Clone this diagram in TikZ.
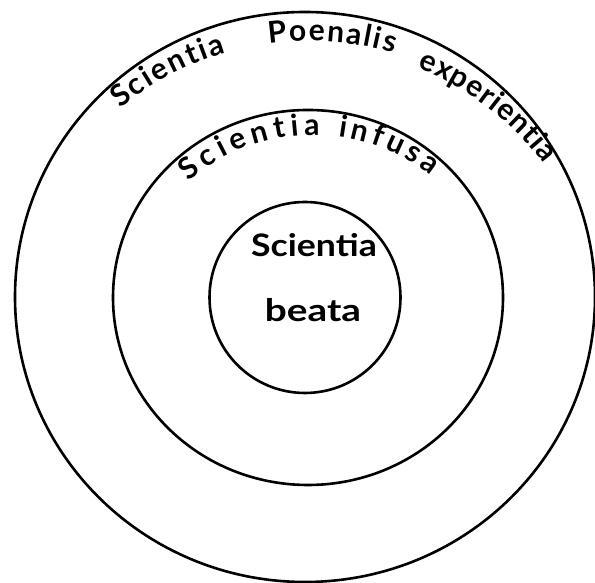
\documentclass[tikz,border=0pt]{standalone}
\usepackage{fontspec}
\setmainfont{Lato}
\usepackage{graphicx}
\usetikzlibrary{decorations.text}
\newcommand\handfont{\fontsize{30}{34}\selectfont\bfseries}
\newcommand\innerfont{\fontsize{31}{36}\selectfont\bfseries}
\tikzset{
  ring/.style={draw=black, line width=2.6pt},
  curvetext/.style={decorate, decoration={text along path, text align=fit to path, text={#1}}}
}
\begin{document}
\begin{tikzpicture}[x=1pt,y=1pt]
\useasboundingbox (0,0) rectangle (595,583);
\coordinate (oc) at (305,286);
\coordinate (mc) at (308,285.5);
\coordinate (ic) at (305,285.5);
\coordinate (ot) at (309.5,243);
\coordinate (mt) at (313,257);
\draw[ring] (oc) ellipse[x radius=290, y radius=285];
\draw[ring] (mc) ellipse[x radius=195, y radius=187.5];
\draw[ring] (ic) circle[radius=95.5];
% outer ring text
\path[curvetext={|\handfont|Scientia}] ([shift={(129.3:299)}]ot) arc[start angle=129.3, end angle=106.2, radius=299];
\path[curvetext={|\handfont|Poenalis}] ([shift={(97.8:299)}]ot) arc[start angle=97.8, end angle=73.6, radius=299];
\path[curvetext={|\handfont|experientia}] ([shift={(68.4:293)}]ot) arc[start angle=68.4, end angle=37, radius=293];
% middle ring text
\path[curvetext={|\handfont|Scientia}] ([shift={(130.8:191)}]mt) arc[start angle=130.8, end angle=88, radius=191];
\path[curvetext={|\handfont|infusa}] ([shift={(82.4:191)}]mt) arc[start angle=82.4, end angle=52, radius=191];
% inner text
\node[font=\innerfont, anchor=base, inner sep=0pt] (s1) at (314,326) {\scalebox{1.15}[1]{Scientia}};
\node[font=\innerfont, anchor=base, inner sep=0pt] (s2) at (313,261) {\scalebox{1.25}[1]{beata}};
\end{tikzpicture}
\end{document}
